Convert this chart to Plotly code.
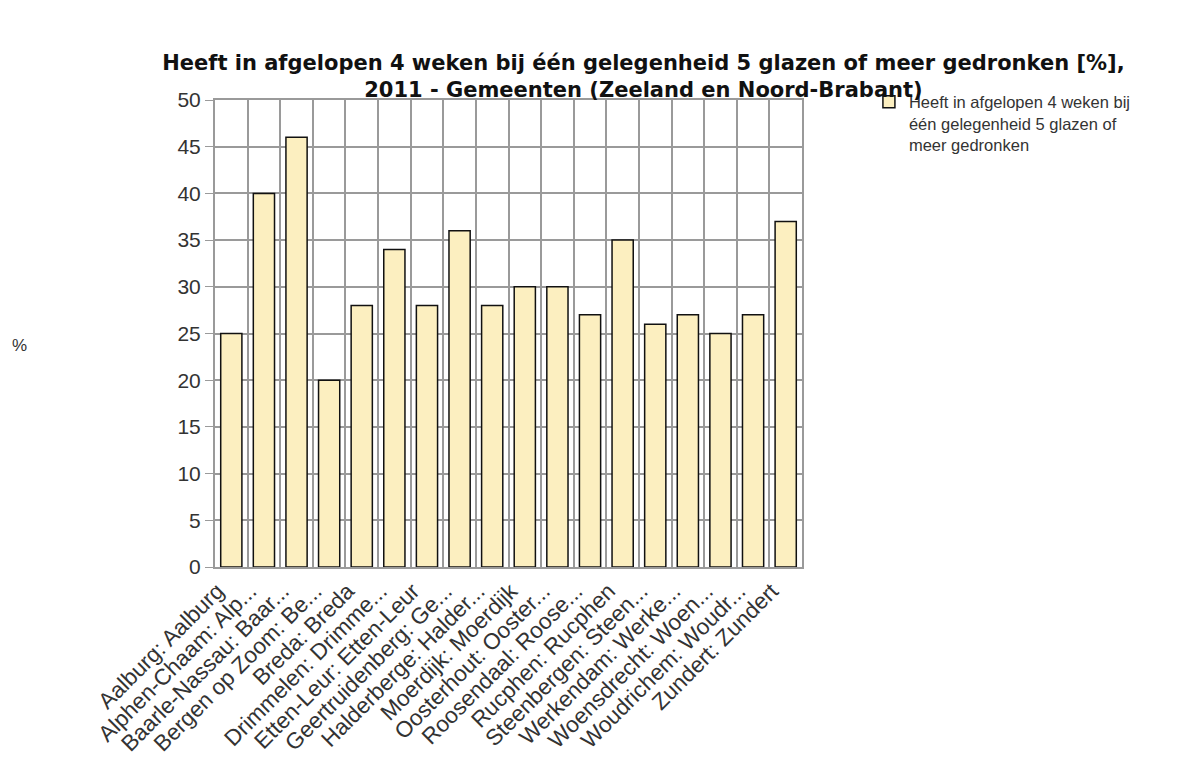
import plotly.graph_objects as go

categories = ["Aalburg: Aalburg", "Alphen-Chaam: Alp...", "Baarle-Nassau: Baar...", "Bergen op Zoom: Be...",
              "Breda: Breda", "Drimmelen: Drimme...", "Etten-Leur: Etten-Leur", "Geertruidenberg: Ge...",
              "Halderberge: Halder...", "Moerdijk: Moerdijk", "Oosterhout: Ooster...", "Roosendaal: Roose...",
              "Rucphen: Rucphen", "Steenbergen: Steen...", "Werkendam: Werke...", "Woensdrecht: Woen...",
              "Woudrichem: Woudr...", "Zundert: Zundert"]
values = [25, 40, 46, 20, 28, 34, 28, 36, 28, 30, 30, 27, 35, 26, 27, 25, 27, 37]
series_name = "Heeft in afgelopen 4 weken bij<br>één gelegenheid 5 glazen of<br>meer gedronken"
y_ticks = [0, 5, 10, 15, 20, 25, 30, 35, 40, 45, 50]

fig = go.Figure()
fig.add_trace(go.Bar(
    x=categories, y=values, name=series_name,
    marker=dict(color="#FCEFC0", line=dict(color="#111111", width=1.5)),
    showlegend=True,
))

fig.update_layout(
    width=1196, height=762,
    margin=dict(l=215, r=394, t=100, b=195, autoexpand=False),
    paper_bgcolor="white", plot_bgcolor="white",
    bargap=0.35,
    title=dict(
        text="<b>Heeft in afgelopen 4 weken bij één gelegenheid 5 glazen of meer gedronken [%],<br>2011 - Gemeenten (Zeeland en Noord-Brabant)</b>",
        xref="container", x=0.538, xanchor="center",
        yref="container", y=1 - 70 / 762, yanchor="middle",
        font=dict(family="DejaVu Sans", size=21, color="#111111"),
    ),
    showlegend=True,
    legend=dict(
        x=1.114, xanchor="left", y=1.033, yanchor="top",
        valign="top",
        font=dict(family="Liberation Sans, Arial", size=16.5, color="#333333"),
        bgcolor="rgba(0,0,0,0)",
    ),
    font=dict(family="Liberation Sans, Arial", color="#333333"),
)

fig.update_xaxes(
    type="category",
    automargin=False,
    tickangle=-45,
    tickfont=dict(family="Liberation Sans, Arial", size=22.5, color="#333333"),
    ticklabelshift=-14,
    showgrid=True, gridcolor="#9a9a9a", gridwidth=2,
    tickson="boundaries",
    ticks="",
    showline=True, linecolor="#9a9a9a", linewidth=2, mirror=True,
)
fig.update_yaxes(
    automargin=False,
    range=[0, 50],
    tickvals=y_ticks,
    tickfont=dict(family="Liberation Sans, Arial", size=21, color="#333333"),
    showgrid=True, gridcolor="#9a9a9a", gridwidth=2,
    showline=True, linecolor="#9a9a9a", linewidth=2, mirror=True,
    ticks="outside", ticklen=8, tickcolor="#9a9a9a",
    zeroline=False,
    title=None,
)

fig.add_annotation(
    text="%", xref="paper", yref="paper", x=-0.35, y=0.475, showarrow=False,
    font=dict(family="Liberation Sans, Arial", size=17, color="#333333"),
)

fig.write_html("out.html")
